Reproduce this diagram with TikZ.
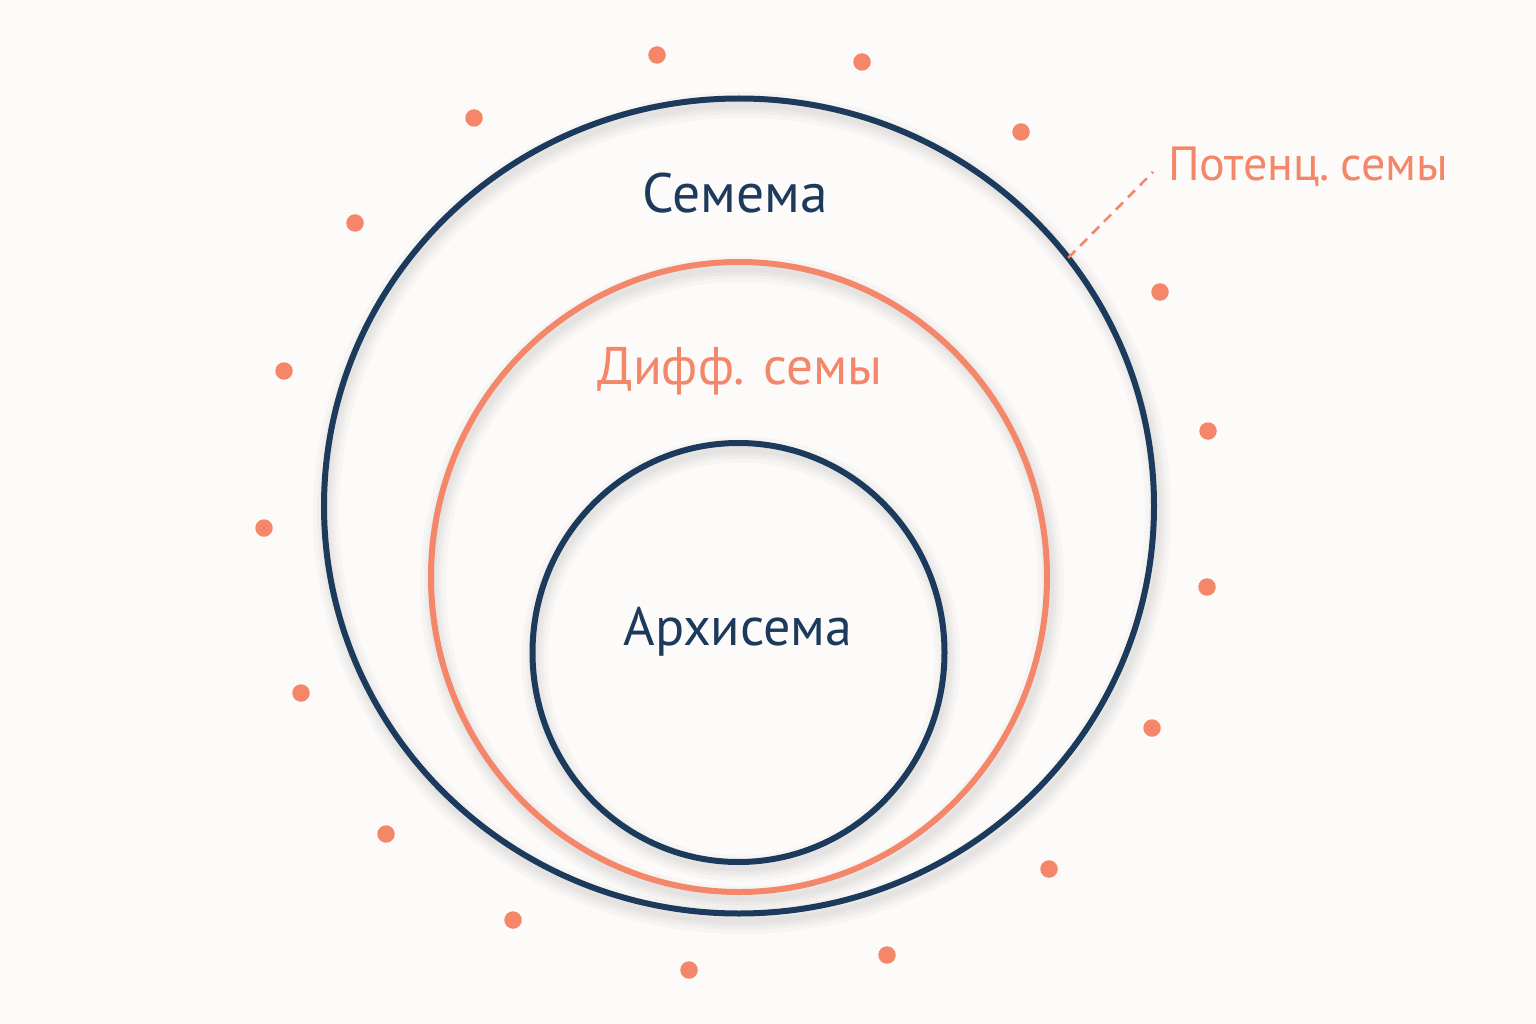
\documentclass[tikz,border=0pt]{standalone}
\usepackage{fontspec}
\setmainfont{PT Sans}
\usetikzlibrary{shapes.geometric}
\definecolor{navy}{HTML}{1C3A5C}
\definecolor{salmon}{HTML}{F4866A}
\definecolor{bg}{HTML}{FCFBF9}
\tikzset{
  ring/.style={ellipse, draw, inner sep=0pt, outer sep=0pt, line width=6pt},
  ringshadow/.style={ellipse, draw=black, draw opacity=0.022, inner sep=0pt, line width=#1},
  dotmark/.style={circle, fill=salmon, draw=none, minimum size=17.5pt, inner sep=0pt},
  lbl/.style={inner sep=0pt, anchor=base},
}
\begin{document}
\begin{tikzpicture}[x=1pt,y=-1pt]
\fill[bg] (0,0) rectangle (1536,1024);
\useasboundingbox (0,0) rectangle (1536,1024);
% soft shadows
\foreach \w in {6,12,18,26}{
  \node[ringshadow=\w pt, minimum width=832pt, minimum height=816pt] at (742,513) {};
  \node[ringshadow=\w pt, minimum width=618pt, minimum height=630pt] at (742,584) {};
  \node[ringshadow=\w pt, minimum width=413pt, minimum height=419pt] at (741,659) {};
}
% rings
\node[ring, draw=navy, minimum width=830pt, minimum height=815pt] (outer) at (739,506) {};
\node[ring, draw=salmon, minimum width=616pt, minimum height=630pt] (middle) at (739,577) {};
\node[ring, draw=navy, minimum width=412pt, minimum height=419pt] (inner) at (738.5,652.5) {};
% labels
\node[lbl, text=navy, font=\fontsize{55.5}{60}\selectfont] (semema) at (735,213) {Семема};
\node[lbl, text=salmon, font=\fontsize{53}{58}\selectfont] (diff) at (740,384) {Дифф. семы};
\node[lbl, text=navy, font=\fontsize{54}{60}\selectfont] (archi) at (738,645) {Архисема};
\node[lbl, text=salmon, font=\fontsize{48}{55}\selectfont, anchor=base west] (poten) at (1168,181) {Потенц.\hspace{0.22em}семы};
% dashed leader
\coordinate (lead) at (1153,172);
\draw[salmon, line width=2.6pt, dash pattern=on 10pt off 7pt] (outer.37.5) -- (lead);
% dots
\foreach \i/\x/\y in {1/657/55, 2/862/62, 3/474/118, 4/1021/132, 5/355/223, 6/1160/292,
  7/284/371, 8/1208/431, 9/264/528, 10/1207/587, 11/301/693, 12/1152/728,
  13/386/834, 14/1049/869, 15/513/920, 16/887/955, 17/689/970}{
  \node[dotmark] (d\i) at (\x,\y) {};
}
\end{tikzpicture}
\end{document}
